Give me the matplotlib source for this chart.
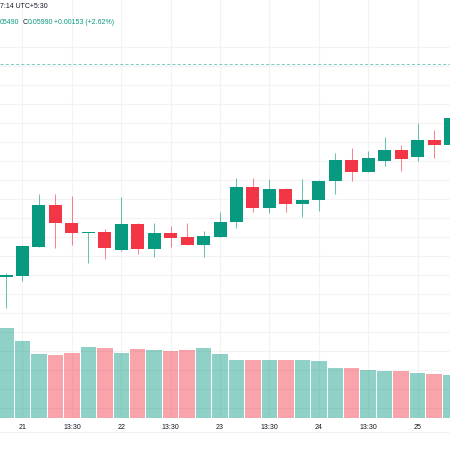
import matplotlib.pyplot as plt
import numpy as np

plt.rcParams['font.family'] = ['Liberation Sans', 'DejaVu Sans']

# 4h candles (UTC+5:30)
opens  = [0.05766, 0.05767, 0.05797, 0.05842, 0.05823, 0.05812, 0.05813, 0.05794, 0.05822, 0.05795,
          0.05812, 0.05808, 0.05799, 0.05808, 0.05824, 0.05861, 0.05838, 0.05858, 0.05843, 0.05847,
          0.05867, 0.05889, 0.05876, 0.05888, 0.05900, 0.05892, 0.05910, 0.05905]
highs  = [0.05770, 0.05799, 0.05853, 0.05853, 0.05851, 0.05813, 0.05816, 0.05850, 0.05823, 0.05823,
          0.05819, 0.05823, 0.05814, 0.05834, 0.05870, 0.05870, 0.05869, 0.05859, 0.05869, 0.05868,
          0.05896, 0.05902, 0.05898, 0.05913, 0.05905, 0.05928, 0.05921, 0.05933]
lows   = [0.05733, 0.05762, 0.05797, 0.05796, 0.05799, 0.05781, 0.05785, 0.05793, 0.05790, 0.05787,
          0.05797, 0.05799, 0.05787, 0.05808, 0.05817, 0.05834, 0.05833, 0.05834, 0.05829, 0.05835,
          0.05853, 0.05867, 0.05876, 0.05883, 0.05877, 0.05888, 0.05891, 0.05905]
closes = [0.05768, 0.05798, 0.05842, 0.05823, 0.05812, 0.05813, 0.05796, 0.05822, 0.05795, 0.05812,
          0.05807, 0.05799, 0.05809, 0.05824, 0.05861, 0.05838, 0.05858, 0.05843, 0.05847, 0.05867,
          0.05889, 0.05876, 0.05891, 0.05900, 0.05890, 0.05910, 0.05905, 0.05933]
volumes = [900, 770, 640, 630, 650, 710, 700, 650, 690, 680,
           670, 680, 700, 640, 580, 580, 580, 580, 580, 570,
           500, 500, 480, 470, 470, 450, 440, 430]
last_price = 0.05990

tick_pos = [1, 4, 7, 10, 13, 16, 19, 22, 25]
tick_lab = ['21', '13:30', '22', '13:30', '23', '13:30', '24', '13:30', '25']

up, down = '#089981', '#F23645'

fig = plt.figure(figsize=(4.5, 4.5), dpi=100)
ax = fig.add_axes([0, 32/450, 1, 418/450])
axv = ax.twinx()            # volume pane, same x

x = np.arange(len(opens))
o, h, l, c = map(np.array, (opens, highs, lows, closes))
colors = [up if cc >= oo else down for oo, cc in zip(o, c)]

# volume bars
axv.bar(x, volumes, width=0.94, color=colors, alpha=0.45, linewidth=0)
axv.set_ylim(0, 4180)
axv.axis('off')

# candles
ax.vlines(x, l, h, colors=colors, linewidth=0.75, alpha=0.6, zorder=3)
body = np.maximum(np.abs(c - o), 0.000015)
ax.bar(x, body, bottom=np.minimum(o, c), width=0.79, color=colors, linewidth=0, zorder=4)

# last price line
ax.axhline(last_price, color=up, lw=0.75, ls=(0, (3, 2)), alpha=0.5, zorder=2)

ax.set_xlim(-0.365, 26.97)
ax.set_ylim(0.056174, 0.060574)
ax.set_yticks(np.arange(0.060079, 0.0561, -0.0002))
ax.set_xticks(tick_pos, tick_lab)
ax.tick_params(axis='x', length=0, pad=4, labelsize=5, labelcolor='#131722')
ax.tick_params(axis='y', length=0, labelleft=False)
ax.grid(color='#F2F3F5', lw=0.8)
ax.set_axisbelow(True)
for s in ax.spines.values():
    s.set_visible(False)

# header legend (cropped on the left like the screenshot)
fig.text(0, 1 - 7/450, '7:14 UTC+5:30', fontsize=5, color='#131722', va='center')
fig.text(0, 1 - 22/450, '05490', fontsize=5, color=up, va='center')
fig.text(23/450, 1 - 22/450, 'C', fontsize=5, color='#131722', va='center')
fig.text(27.5/450, 1 - 22/450, '0.05990', fontsize=5, color=up, va='center')
fig.text(54.5/450, 1 - 22/450, '+0.00153 (+2.62%)', fontsize=5, color=up, va='center')

fig.add_artist(plt.Line2D([0, 1], [18/450, 18/450], color='#F2F3F5', lw=0.8))

plt.savefig('out.png', dpi=100)
